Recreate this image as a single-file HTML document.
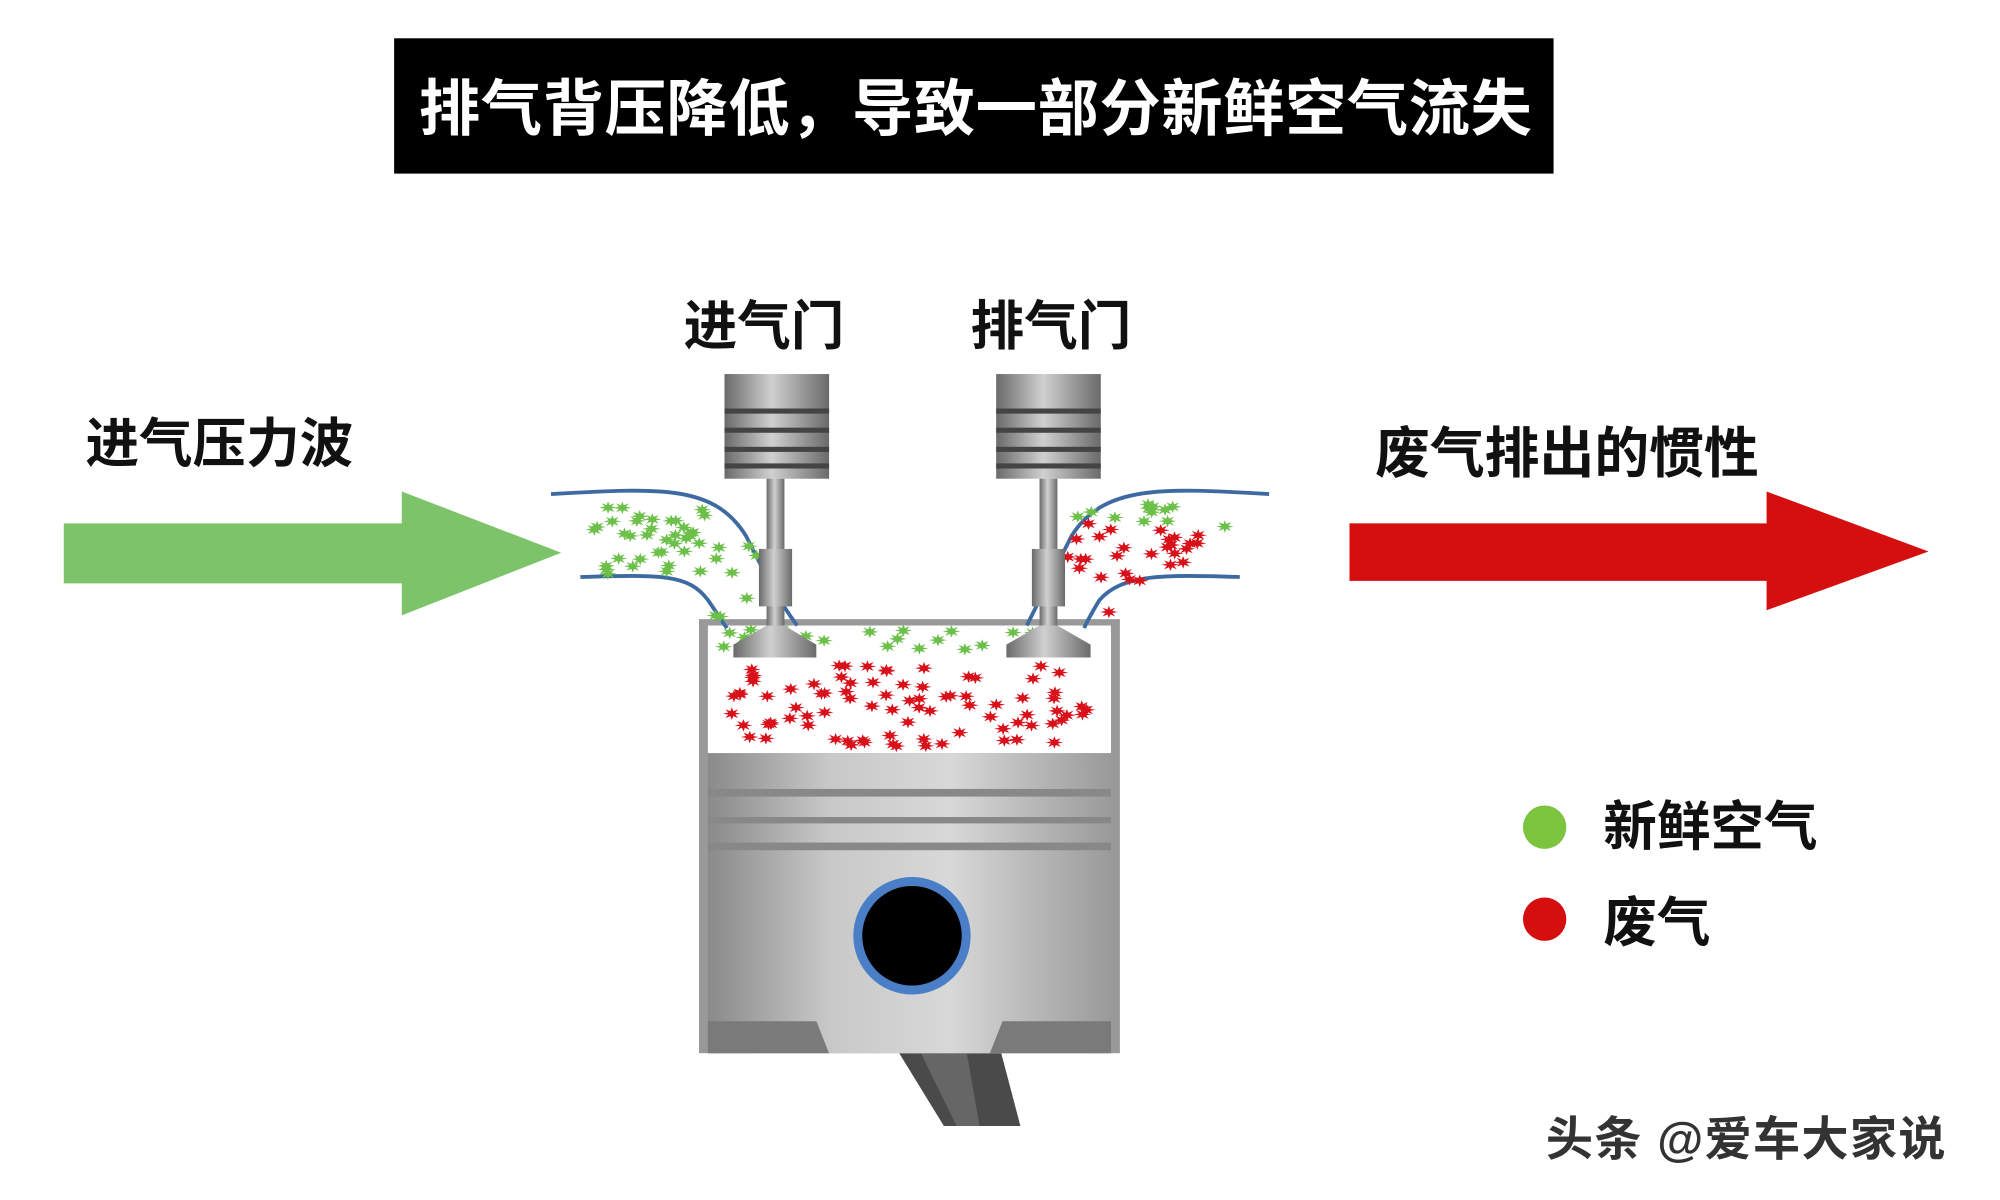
<!DOCTYPE html>
<html><head><meta charset="utf-8">
<style>
html,body{margin:0;padding:0;background:#fff;}
svg{display:block;}
text{font-family:"Liberation Sans","Noto Sans CJK SC",sans-serif;font-weight:bold;}
</style></head>
<body>
<svg id="s" width="2000" height="1200" viewBox="0 0 1568 940" preserveAspectRatio="none" xmlns="http://www.w3.org/2000/svg">
<defs>
<linearGradient id="pg" x1="0" x2="1" y1="0" y2="0">
<stop offset="0" stop-color="#8a8a8a"/><stop offset="0.3" stop-color="#c8c8c8"/><stop offset="0.6" stop-color="#d8d8d8"/><stop offset="1" stop-color="#9a9a9a"/>
</linearGradient>
<linearGradient id="sg" x1="0" x2="1" y1="0" y2="0">
<stop offset="0" stop-color="#6a6a6a"/><stop offset="0.45" stop-color="#d0d0d0"/><stop offset="1" stop-color="#6a6a6a"/>
</linearGradient>
</defs>
<rect width="1568" height="940" fill="#fff"/>
<rect x="309" y="30" width="909" height="106" fill="#000"/>
<text x="765" y="102" font-size="48" fill="#fff" text-anchor="middle" letter-spacing="0.5">排气背压降低，导致一部分新鲜空气流失</text>
<text x="599" y="270" font-size="42" fill="#111" text-anchor="middle">进气门</text>
<text x="824" y="270" font-size="42" fill="#111" text-anchor="middle">排气门</text>
<text x="67" y="362" font-size="42" fill="#111">进气压力波</text>
<text x="1078" y="370" font-size="43" fill="#111">废气排出的惯性</text>
<polygon points="50,410 315,410 315,385 440,433 315,482 315,457 50,457" fill="#7cc36a"/>
<polygon points="1058,410 1385,410 1385,385 1512,432 1385,478 1385,455 1058,455" fill="#d50f0f"/>
<polygon points="705,825 785,825 800,882 740,882" fill="#4a4a4a"/>
<polygon points="722,825 758,825 768,882 750,882" fill="#666"/>
<rect x="548" y="485" width="330" height="340" fill="#999"/>
<rect x="555" y="490" width="316" height="100" fill="#fff"/>
<rect x="555" y="590" width="316" height="235" fill="url(#pg)"/>
<rect x="555" y="618" width="316" height="6" fill="#888"/>
<rect x="555" y="640" width="316" height="5" fill="#888"/>
<rect x="555" y="660" width="316" height="6" fill="#888"/>
<path d="M555,800 L640,800 L650,825 L555,825Z M871,800 L786,800 L776,825 L871,825Z" fill="#7a7a7a"/>
<circle cx="715" cy="733" r="46" fill="#4a7fc8"/>
<circle cx="715" cy="733" r="39" fill="#000"/>
<path d="M432,387 C520,382 560,380 585,420 C600,450 610,470 625,490" fill="none" stroke="#3d6aa0" stroke-width="3"/>
<path d="M455,452 C520,450 540,450 555,470 C562,480 566,487 570,492" fill="none" stroke="#3d6aa0" stroke-width="3"/>
<path d="M995,387 C910,382 865,380 840,420 C825,450 815,470 805,490" fill="none" stroke="#3d6aa0" stroke-width="3"/>
<path d="M972,452 C910,450 880,450 862,470 C856,480 852,487 850,492" fill="none" stroke="#3d6aa0" stroke-width="3"/>
<g id="parts"></g>
<g>
<rect x="568" y="293" width="82" height="82" fill="url(#sg)"/>
<rect x="568" y="320" width="82" height="4" fill="#444"/><rect x="568" y="335" width="82" height="4" fill="#444"/><rect x="568" y="350" width="82" height="4" fill="#444"/><rect x="568" y="363" width="82" height="4" fill="#444"/>
<rect x="601" y="375" width="14" height="120" fill="url(#sg)"/>
<rect x="595" y="430" width="26" height="45" fill="url(#sg)"/>
<polygon points="601,490 615,490 640,505 640,515 575,515 575,505" fill="url(#sg)"/>
</g>
<g>
<rect x="781" y="293" width="82" height="82" fill="url(#sg)"/>
<rect x="781" y="320" width="82" height="4" fill="#444"/><rect x="781" y="335" width="82" height="4" fill="#444"/><rect x="781" y="350" width="82" height="4" fill="#444"/><rect x="781" y="363" width="82" height="4" fill="#444"/>
<rect x="815" y="375" width="14" height="120" fill="url(#sg)"/>
<rect x="809" y="430" width="26" height="45" fill="url(#sg)"/>
<polygon points="815,490 829,490 855,505 855,515 789,515 789,505" fill="url(#sg)"/>
</g>
<circle cx="1211" cy="648" r="17" fill="#7cc33e"/>
<text x="1257" y="662" font-size="42" fill="#111">新鲜空气</text>
<circle cx="1211" cy="720" r="17" fill="#d50f0f"/>
<text x="1257" y="737" font-size="42" fill="#111">废气</text>
<text x="1212" y="905" font-size="37" fill="#333" font-weight="normal" letter-spacing="1">头条 @爱车大家说</text>
</svg>
<script>
(function(){
var g=document.getElementById('parts'),ns='http://www.w3.org/2000/svg';
var seed=7;function r(){seed=(seed*9301+49297)%233280;return seed/233280;}
function star(x,y,c){var p=[];for(var i=0;i<16;i++){var a=i*Math.PI/8,rr=i%2?3:7;p.push((x+rr*Math.cos(a)).toFixed(1)+','+(y+rr*0.7*Math.sin(a)).toFixed(1));}
var e=document.createElementNS(ns,'polygon');e.setAttribute('points',p.join(' '));e.setAttribute('fill',c);g.appendChild(e);}
var i,x,y;
for(i=0;i<45;i++){x=465+r()*130;y=395+r()*55;if(x>560)y=420+r()*65;star(x,y,'#6cc04a');}
for(i=0;i<22;i++){x=565+r()*290;y=493+r()*18;star(x,y,'#6cc04a');}
for(i=0;i<85;i++){x=565+r()*295;y=520+r()*65;star(x,y,'#d8101a');}
for(i=0;i<12;i++){x=845+r()*120;y=395+r()*20;star(x,y,'#6cc04a');}
for(i=0;i<28;i++){x=835+r()*110;y=410+r()*85;if(x>900)y=415+r()*30;star(x,y,'#d8101a');}
})();
</script>
</body></html>
